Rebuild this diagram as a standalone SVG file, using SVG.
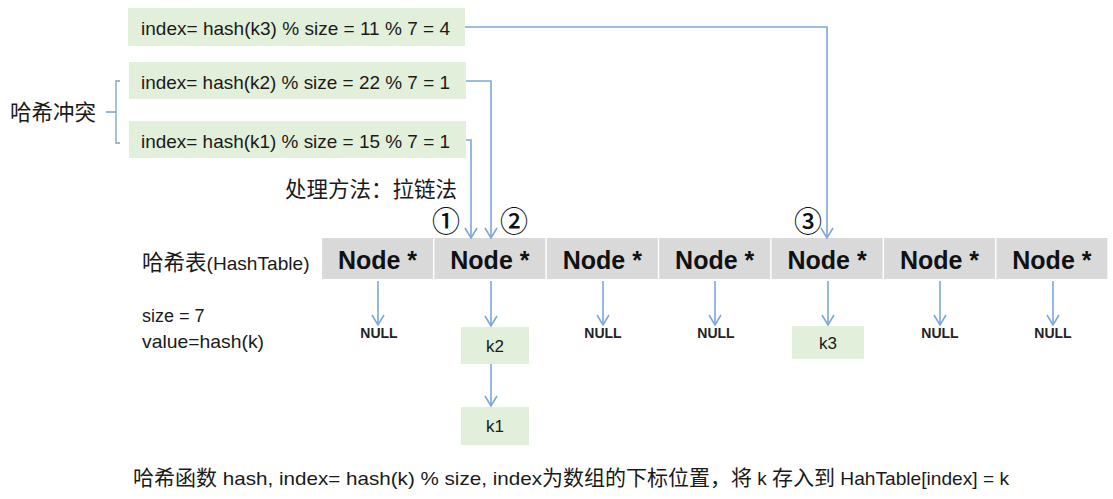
<svg xmlns="http://www.w3.org/2000/svg" width="1113" height="499" viewBox="0 0 1113 499">
<style>
.bg{fill:#ffffff}
.eq{fill:#E2EFDA}
.cell{fill:#D9D9D9}
.lat{font-family:"Liberation Sans",Arial,sans-serif;fill:#1a1a1a}
.cjk{font-family:"Liberation Sans","Noto Sans CJK SC",sans-serif;fill:#1a1a1a}
.eqt{font-size:19px}
.nd{font-family:"Liberation Sans",Arial,sans-serif;font-weight:bold;font-size:25px;fill:#111;text-anchor:middle}
.nul{font-family:"Liberation Sans",Arial,sans-serif;font-weight:bold;font-size:14px;fill:#222;text-anchor:middle}
.kt{font-family:"Liberation Sans",Arial,sans-serif;font-size:17px;fill:#1a1a1a;text-anchor:middle}
.circ{font-family:"Noto Sans CJK SC","DejaVu Sans",sans-serif;font-size:28px;font-weight:500;fill:#111;text-anchor:middle}
.con{fill:none;stroke:#7EA7D6;stroke-width:1.6}
.br{fill:none;stroke:#7F9DC4;stroke-width:1.3}
</style>
<defs>
<marker id="ah" viewBox="-1 -7 13 14" refX="10" refY="0" markerWidth="13" markerHeight="14" markerUnits="userSpaceOnUse" orient="auto">
<path d="M0,-6 L10,0 L0,6" fill="none" stroke="#7EA7D6" stroke-width="1.6"/>
</marker>
</defs>
<rect class="bg" x="0" y="0" width="1113" height="499"/>

<g id="eq-k3">
<rect class="eq" x="128" y="8" width="337" height="38"/>
<text class="lat eqt" x="141" y="35" textLength="309" lengthAdjust="spacingAndGlyphs">index= hash(k3) % size = 11 % 7 = 4</text>
</g>
<g id="eq-k2">
<rect class="eq" x="129" y="62" width="337" height="37"/>
<text class="lat eqt" x="141" y="89" textLength="309" lengthAdjust="spacingAndGlyphs">index= hash(k2) % size = 22 % 7 = 1</text>
</g>
<g id="eq-k1">
<rect class="eq" x="129" y="121" width="337" height="37"/>
<text class="lat eqt" x="141" y="148" textLength="309" lengthAdjust="spacingAndGlyphs">index= hash(k1) % size = 15 % 7 = 1</text>
</g>

<g id="collision">
<text class="cjk" x="10" y="120" font-size="21.5">哈希冲突</text>
<path class="br" d="M120,81 H116 V112 M106,112 H116 M116,112 V143 H120"/>
</g>

<g id="method">
<text class="cjk" x="285" y="197" font-size="21.5">处理方法：拉链法</text>
</g>

<g id="marks">
<text class="circ" x="446" y="232">①</text>
<text class="circ" x="514" y="232">②</text>
<text class="circ" x="808" y="232">③</text>
</g>

<g id="table-label">
<text class="cjk" x="142" y="270"><tspan font-size="21.5">哈希表</tspan><tspan font-size="19" textLength="103" lengthAdjust="spacingAndGlyphs">(HashTable)</tspan></text>
<text class="lat" x="142" y="322" font-size="18">size = 7</text>
<text class="lat" x="142" y="348" font-size="19" textLength="122" lengthAdjust="spacingAndGlyphs">value=hash(k)</text>
</g>

<g id="slot0"><rect class="cell" x="322" y="238" width="111" height="41"/><text class="nd" x="377.5" y="269">Node *</text></g>
<g id="slot1"><rect class="cell" x="434.4" y="238" width="111" height="41"/><text class="nd" x="489.9" y="269">Node *</text></g>
<g id="slot2"><rect class="cell" x="546.8" y="238" width="111" height="41"/><text class="nd" x="602.3" y="269">Node *</text></g>
<g id="slot3"><rect class="cell" x="659.2" y="238" width="111" height="41"/><text class="nd" x="714.7" y="269">Node *</text></g>
<g id="slot4"><rect class="cell" x="771.6" y="238" width="111" height="41"/><text class="nd" x="827.1" y="269">Node *</text></g>
<g id="slot5"><rect class="cell" x="884" y="238" width="111" height="41"/><text class="nd" x="939.5" y="269">Node *</text></g>
<g id="slot6"><rect class="cell" x="996.4" y="238" width="111" height="41"/><text class="nd" x="1051.9" y="269">Node *</text></g>

<g id="null0"><text class="nul" x="379" y="338">NULL</text></g>
<g id="null2"><text class="nul" x="603" y="338">NULL</text></g>
<g id="null3"><text class="nul" x="716" y="338">NULL</text></g>
<g id="null5"><text class="nul" x="940" y="338">NULL</text></g>
<g id="null6"><text class="nul" x="1053" y="338">NULL</text></g>

<g id="k2"><rect class="eq" x="461" y="327" width="68" height="37"/><text class="kt" x="495" y="352">k2</text></g>
<g id="k1"><rect class="eq" x="461" y="407" width="68" height="38"/><text class="kt" x="495" y="432">k1</text></g>
<g id="k3"><rect class="eq" x="792" y="326" width="72" height="33"/><text class="kt" x="828" y="349" font-size="15">k3</text></g>

<g id="connectors">
<path class="con" d="M465,27 H827 V238" marker-end="url(#ah)"/>
<path class="con" d="M466,81 H491 V238" marker-end="url(#ah)"/>
<path class="con" d="M466,140 H471 V238" marker-end="url(#ah)"/>
<path class="con" d="M378,281 V325" marker-end="url(#ah)"/>
<path class="con" d="M491,281 V326" marker-end="url(#ah)"/>
<path class="con" d="M603,281 V325" marker-end="url(#ah)"/>
<path class="con" d="M715,281 V325" marker-end="url(#ah)"/>
<path class="con" d="M828,281 V325" marker-end="url(#ah)"/>
<path class="con" d="M940,281 V325" marker-end="url(#ah)"/>
<path class="con" d="M1053,281 V325" marker-end="url(#ah)"/>
<path class="con" d="M491,364 V406" marker-end="url(#ah)"/>
</g>

<g id="caption">
<text class="cjk" x="133" y="485"><tspan font-size="21">哈希函数</tspan><tspan font-size="19" textLength="325" lengthAdjust="spacingAndGlyphs"> hash, index= hash(k) % size, index</tspan><tspan font-size="21">为数组的下标位置，将</tspan><tspan font-size="19" textLength="20" lengthAdjust="spacingAndGlyphs"> k </tspan><tspan font-size="21">存入到</tspan><tspan font-size="19" textLength="174" lengthAdjust="spacingAndGlyphs"> HahTable[index] = k</tspan></text>
</g>
</svg>
